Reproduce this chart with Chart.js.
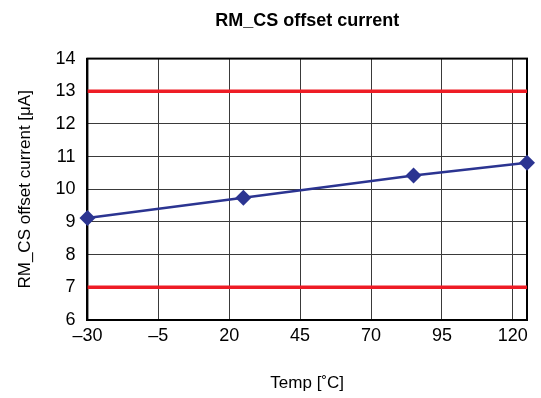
<!DOCTYPE html>
<html>
<head>
<meta charset="utf-8">
<script src="https://cdn.jsdelivr.net/npm/chart.js@4/dist/chart.umd.min.js"></script>
<style>
  html, body { margin: 0; padding: 0; background: #fff; }
  #wrap { width: 541px; height: 398px; }
</style>
</head>
<body>
<div id="wrap"><canvas id="chart"></canvas></div>
<script>
// Data
const temps = [-30, 25, 85, 125];
const offsetCurrent = [9.12, 9.74, 10.42, 10.81];
const limitTemps = [-30, 125];
const upperLimit = [13, 13];
const lowerLimit = [7, 7];
const xTicks = [-30, -5, 20, 45, 70, 95, 120, 125];

// Colors
const COLOR_SERIES = "#2b3491";
const COLOR_LIMIT = "#ee1c25";
const COLOR_GRID = "#3a3a3a";

const FONT = "'Liberation Sans', Arial, sans-serif";

function toPoints(xs, ys) {
    return xs.map((x, i) => ({ x: x, y: ys[i] }));
}

// Frame all four sides of the plot area
const frame = {
    id: "frame",
    beforeDatasetsDraw(chart) {
        const a = chart.chartArea;
        const ctx = chart.ctx;
        ctx.save();
        ctx.strokeStyle = "#000";
        ctx.lineWidth = 2;
        ctx.strokeRect(a.left, a.top, a.right - a.left, a.bottom - a.top);
        ctx.restore();
    }
};

new Chart("chart", {
    type: "scatter",
    data: {
        datasets: [{
            data: toPoints(limitTemps, upperLimit),
            showLine: true,
            borderColor: COLOR_LIMIT,
            borderWidth: 3.5,
            pointRadius: 0
        },
        {
            data: toPoints(limitTemps, lowerLimit),
            showLine: true,
            borderColor: COLOR_LIMIT,
            borderWidth: 3.5,
            pointRadius: 0
        },
        {
            data: toPoints(temps, offsetCurrent),
            showLine: true,
            clip: false,
            borderColor: COLOR_SERIES,
            backgroundColor: COLOR_SERIES,
            borderWidth: 2.5,
            pointStyle: "rectRot",
            pointRadius: 8,
            pointBorderWidth: 0
        }]
    },
    options: {
        responsive: true,
        maintainAspectRatio: false,
        animation: false,
        layout: { padding: { left: 15, right: 14, top: 0, bottom: 4 } },
        plugins: {
            legend: { display: false },
            tooltip: { enabled: false },
            title: {
                display: true,
                fullSize: false,
                text: "RM_CS offset current",
                color: "#000",
                font: { family: FONT, size: 18, weight: "bold" },
                padding: { top: 10, bottom: 27 }
            }
        },
        scales: {
            x: {
                type: "linear",
                min: -30,
                max: 125,
                afterBuildTicks(scale) {
                    scale.ticks = xTicks.map(v => ({ value: v }));
                },
                ticks: {
                    color: "#000",
                    font: { family: FONT, size: 18 },
                    padding: 5,
                    maxRotation: 0,
                    callback: (v) => v === 125 ? "" : String(v).replace("-", "\u2013")
                },
                grid: { color: COLOR_GRID, lineWidth: 1, drawTicks: false },
                border: { color: "#000", width: 2 },
                title: {
                    display: true,
                    text: "Temp [\u02daC]",
                    color: "#000",
                    font: { family: FONT, size: 17 },
                    padding: { top: 22, bottom: 0 }
                }
            },
            y: {
                min: 6,
                max: 14,
                ticks: {
                    stepSize: 1,
                    color: "#000",
                    font: { family: FONT, size: 18 },
                    padding: 12
                },
                grid: { color: COLOR_GRID, lineWidth: 1, drawTicks: false },
                border: { color: "#000", width: 2 },
                title: {
                    display: true,
                    text: "RM_CS offset current [\u03bcA]",
                    color: "#000",
                    font: { family: FONT, size: 17 },
                    padding: { top: 0, bottom: 8 }
                }
            }
        }
    },
    plugins: [frame]
});
</script>
</body>
</html>
